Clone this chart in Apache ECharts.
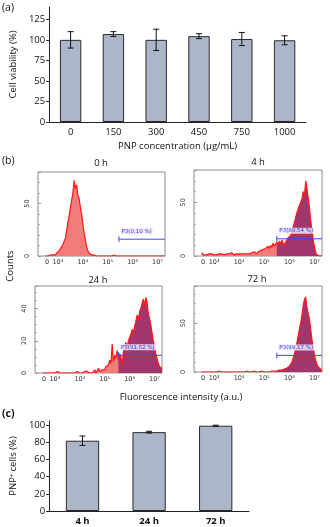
<!doctype html>
<html lang="en">
<head>
<meta charset="UTF-8">
<title>PNP viability and uptake</title>
<style>html,body{margin:0;padding:0;background:#fff}</style>
</head>
<body>
<div id="main" style="width:330px;height:527px"></div>
<script src="https://cdn.jsdelivr.net/npm/echarts@6/dist/echarts.min.js"></script>
<script>
// (a) cell viability vs PNP concentration
const concLabels = ['0', '150', '300', '450', '750', '1000'];
const viability = [100, 107, 100, 104.5, 101, 99.5];
const viabilityErr = [10, 3, 13, 3, 8, 5.5];

// (c) PNP+ cells over time
const timeLabels = ['4 h', '24 h', '72 h'];
const pnpPos = [82, 92, 99.5];
const pnpErr = [5.5, 1, 0.6];

// (b) flow histograms, counts per bin, bins every 0.05 decade from 10^2.5
const BIN0 = 2.5, BIN_STEP = 0.05;
const hist0h = [
  0, 1, 0, 0, 1, 0, 1, 2, 1, 3,
  4, 5, 7, 9, 11, 14, 17, 24, 32, 38,
  46, 53, 60, 72, 64, 68, 58, 55, 47, 40,
  31, 22, 16, 9, 5, 3, 2, 1, 0, 1,
  0, 0, 1, 0, 0, 0, 1, 0, 0, 0,
  1, 0, 0, 0, 0, 1, 0, 0, 0, 0,
  0, 0, 1, 0, 0, 0, 0, 0, 1, 0,
  0, 0, 0, 0, 0, 0, 0, 0, 0, 0,
  0, 0, 0, 0, 0, 0, 0, 0, 0, 0,
  0, 0, 0, 0, 0, 0, 0
];
const hist4h = [
  3, 2, 1, 2, 1, 1, 2, 1, 2, 1,
  1, 2, 1, 1, 2, 1, 2, 1, 1, 2,
  2, 1, 2, 1, 3, 2, 1, 2, 2, 1,
  2, 3, 2, 1, 2, 3, 2, 3, 2, 3,
  3, 2, 4, 3, 2, 4, 3, 5, 4, 6,
  5, 7, 6, 9, 7, 10, 8, 12, 9, 11,
  13, 10, 14, 11, 15, 12, 10, 13, 15, 17,
  16, 19, 23, 27, 31, 36, 40, 44, 47, 50,
  53, 60, 56, 70, 63, 54, 45, 33, 24, 15,
  9, 3, 1, 0, 0, 0, 0
];
const hist24h = [
  0, 0, 0, 0, 0, 0, 0, 0, 0, 0,
  0, 0, 1, 0, 0, 0, 0, 0, 0, 0,
  0, 0, 0, 1, 0, 0, 0, 0, 1, 0,
  0, 1, 0, 0, 1, 0, 1, 0, 0, 1,
  0, 1, 2, 0, 1, 3, 1, 2, 2, 3,
  2, 4, 3, 5, 8, 6, 18, 7, 11, 9,
  14, 8, 12, 10, 5, 13, 17, 19, 15, 20,
  21, 24, 27, 25, 29, 32, 36, 33, 38, 40,
  43, 46, 42, 47, 44, 37, 34, 30, 25, 20,
  16, 12, 9, 6, 4, 3, 3
];
const hist72h = [
  0, 0, 0, 0, 0, 0, 0, 0, 0, 0,
  0, 0, 0, 0, 1, 0, 0, 0, 0, 0,
  0, 0, 0, 0, 0, 0, 0, 1, 0, 0,
  0, 0, 0, 0, 0, 0, 1, 0, 0, 0,
  0, 0, 1, 0, 0, 1, 0, 0, 1, 0,
  0, 1, 0, 1, 0, 1, 1, 0, 1, 1,
  1, 1, 2, 1, 2, 2, 3, 2, 4, 5,
  6, 8, 10, 14, 18, 24, 30, 37, 44, 50,
  58, 68, 74, 77, 66, 60, 54, 44, 33, 25,
  17, 12, 8, 5, 4, 3, 1
];
const histTitles = ['0 h', '4 h', '24 h', '72 h'];
const histMax = [80, 80, 54, 88];
const histInterval = [50, 50, 20, 50];
const gateStart = [5.45, 5.5, 5.55, 5.5];
const gateLevel = [16, 16, 11, 17];
const gateText = ['P3(0.10 %)', 'P3(89.54 %)', 'P3(91.52 %)', 'P3(99.17 %)'];
const decadeTicks = [2.56, 3, 4, 5, 6, 7];
const decadeLabels = ['0', '10³', '10⁴', '10⁵', '10⁶', '10⁷'];

const FONT = '"Open Sans", Lato, sans-serif';
const SMALL = '"DejaVu Sans", sans-serif';
const XMIN = 2.2, XMAX = 7.3;
const INK = '#111';

let chart = echarts.init(document.getElementById('main'), null, {renderer: 'canvas'});

function errorBar(params, api) {
    const x = api.value(0);
    const hi = api.coord([x, api.value(2)]);
    const lo = api.coord([x, api.value(1)]);
    const w = 3;
    const st = {stroke: '#111', lineWidth: 1};
    return {
        type: 'group',
        children: [
            {type: 'line', shape: {x1: hi[0], y1: hi[1], x2: lo[0], y2: lo[1]}, style: st},
            {type: 'line', shape: {x1: hi[0] - w, y1: hi[1], x2: hi[0] + w, y2: hi[1]}, style: st},
            {type: 'line', shape: {x1: lo[0] - w, y1: lo[1], x2: lo[0] + w, y2: lo[1]}, style: st}
        ]
    };
}

const grids = [
    {left: 40, top: 7, width: 266, height: 115},
    {left: 38, top: 172, width: 127, height: 84},
    {left: 194, top: 170, width: 128, height: 86},
    {left: 35, top: 286, width: 127, height: 87},
    {left: 194, top: 286, width: 128, height: 86},
    {left: 37, top: 421, width: 212, height: 90}
];

const xAxes = [], yAxes = [], series = [];

// (a)
xAxes.push({
    gridIndex: 0, type: 'category', data: concLabels,
    axisLine: {lineStyle: {color: '#222'}},
    axisTick: {length: 3, lineStyle: {color: '#222'}},
    axisLabel: {fontFamily: FONT, fontSize: 9.5, color: INK, margin: 5},
    name: 'PNP concentration (µg/mL)', nameLocation: 'middle', nameGap: 19,
    nameTextStyle: {fontFamily: FONT, fontSize: 9.5, color: INK}
});
yAxes.push({
    gridIndex: 0, type: 'value', min: 0, max: 140, interval: 25,
    axisLine: {show: true, lineStyle: {color: '#222'}},
    axisTick: {show: true, length: 3, lineStyle: {color: '#222'}},
    splitLine: {show: false},
    axisLabel: {fontFamily: FONT, fontSize: 9.5, color: INK, margin: 4, showMaxLabel: false},
    name: 'Cell viability (%)', nameLocation: 'middle', nameGap: 21,
    nameTextStyle: {fontFamily: FONT, fontSize: 9.5, color: INK}
});
series.push({
    type: 'bar', xAxisIndex: 0, yAxisIndex: 0, data: viability, barWidth: '50%',
    itemStyle: {color: '#acb6c9', borderColor: '#2a2a2a', borderWidth: 1}
});
series.push({
    type: 'custom', xAxisIndex: 0, yAxisIndex: 0, renderItem: errorBar,
    data: viability.map((v, i) => [i, v - viabilityErr[i], v + viabilityErr[i]]),
    encode: {x: 0, y: [1, 2]}, z: 5
});

// (b) histograms
const hists = [hist0h, hist4h, hist24h, hist72h];
hists.forEach((h, k) => {
    const gi = k + 1;
    xAxes.push({
        gridIndex: gi, type: 'value', min: XMIN, max: XMAX,
        axisLine: {show: false}, axisTick: {show: false}, splitLine: {show: false},
        axisLabel: {
            customValues: decadeTicks, margin: 3,
            fontFamily: SMALL, fontSize: 6.5, color: '#333',
            formatter: v => decadeLabels[decadeTicks.indexOf(v)]
        }
    });
    yAxes.push({
        gridIndex: gi, type: 'value', min: 0, max: histMax[k], interval: histInterval[k],
        axisLine: {show: false}, splitLine: {show: false},
        axisTick: {show: true, inside: true, length: 3, lineStyle: {color: '#999'}},
        minorTick: {show: true, splitNumber: histInterval[k] === 20 ? 4 : 5, length: 2, lineStyle: {color: '#aaa'}},
        axisLabel: {rotate: 90, fontFamily: SMALL, fontSize: 6.5, color: '#333', margin: 7, showMaxLabel: false}
    });
    const pts = h.map((c, i) => [+(BIN0 + i * BIN_STEP).toFixed(2), c]);
    const gated = pts.filter(p => p[0] >= gateStart[k]);
    series.push({
        type: 'line', xAxisIndex: gi, yAxisIndex: gi, data: pts, showSymbol: false,
        lineStyle: {width: 0}, areaStyle: {color: '#f37c7a', opacity: 1}, z: 2, silent: true
    });
    series.push({
        type: 'line', xAxisIndex: gi, yAxisIndex: gi, data: gated, showSymbol: false,
        lineStyle: {width: 0}, areaStyle: {color: '#a2356c', opacity: 1}, z: 3, silent: true
    });
    series.push({
        type: 'line', xAxisIndex: gi, yAxisIndex: gi, data: pts, showSymbol: false,
        lineStyle: {width: 1.2, color: '#ff1a1a'}, z: 4, silent: true
    });
    series.push({
        type: 'line', xAxisIndex: gi, yAxisIndex: gi, z: 6, silent: true,
        lineStyle: {width: 1, color: '#4646ee'}, itemStyle: {color: '#4646ee'},
        data: [
            {
                value: [gateStart[k], gateLevel[k]], symbol: 'rect', symbolSize: [1, 6],
                label: {
                    show: true, formatter: gateText[k], position: [2, -8],
                    fontFamily: SMALL, fontSize: 5.5, color: '#3a3ae0',
                    backgroundColor: 'rgba(236,232,250,0.85)', padding: [0, 1]
                }
            },
            {value: [XMAX, gateLevel[k]], symbol: 'none'}
        ]
    });
});
for (let k = 1; k <= 4; k++) {
    grids[k].show = true;
    grids[k].borderColor = '#8c8c8c';
    grids[k].borderWidth = 1;
}

// (c)
xAxes.push({
    gridIndex: 5, type: 'category', data: timeLabels,
    axisLine: {lineStyle: {color: '#222'}},
    axisTick: {length: 3, lineStyle: {color: '#222'}},
    axisLabel: {fontFamily: FONT, fontSize: 9.5, fontWeight: 'bold', color: INK, margin: 5}
});
yAxes.push({
    gridIndex: 5, type: 'value', min: 0, max: 105, interval: 20,
    axisLine: {show: true, lineStyle: {color: '#222'}},
    axisTick: {show: true, length: 3, lineStyle: {color: '#222'}},
    splitLine: {show: false},
    axisLabel: {fontFamily: FONT, fontSize: 9.5, color: INK, margin: 4, showMaxLabel: false},
    name: 'PNP⁺ cells (%)', nameLocation: 'middle', nameGap: 21,
    nameTextStyle: {fontFamily: FONT, fontSize: 9.5, color: INK}
});
series.push({
    type: 'bar', xAxisIndex: 5, yAxisIndex: 5, data: pnpPos, barWidth: '50%',
    itemStyle: {color: '#acb6c9', borderColor: '#2a2a2a', borderWidth: 1}
});
series.push({
    type: 'custom', xAxisIndex: 5, yAxisIndex: 5, renderItem: errorBar,
    data: pnpPos.map((v, i) => [i, v - pnpErr[i], v + pnpErr[i]]),
    encode: {x: 0, y: [1, 2]}, z: 5
});

function txt(s, x, y, opts) {
    return Object.assign({
        type: 'text', x: x, y: y,
        style: Object.assign({text: s, fontFamily: FONT, fontSize: 9.5, fill: INK,
            align: 'center', verticalAlign: 'middle'}, (opts && opts.style) || {})
    }, opts && opts.rotation ? {rotation: opts.rotation} : {});
}

const graphics = [
    txt('(a)', 2, 8, {style: {fontSize: 10.5, align: 'left'}}),
    txt('(b)', 2, 161, {style: {fontSize: 10.5, align: 'left'}}),
    txt('(c)', 2, 414, {style: {fontSize: 10.5, align: 'left', fontWeight: 'bold'}}),
    txt(histTitles[0], 101, 163),
    txt(histTitles[1], 258, 162),
    txt(histTitles[2], 98, 280),
    txt(histTitles[3], 257, 279),
    txt('Counts', 10, 266, {rotation: Math.PI / 2}),
    txt('Fluorescence intensity (a.u.)', 181, 397)
];

chart.setOption({
    animation: false,
    grid: grids,
    xAxis: xAxes,
    yAxis: yAxes,
    series: series,
    graphic: graphics
});
</script>
</body>
</html>
